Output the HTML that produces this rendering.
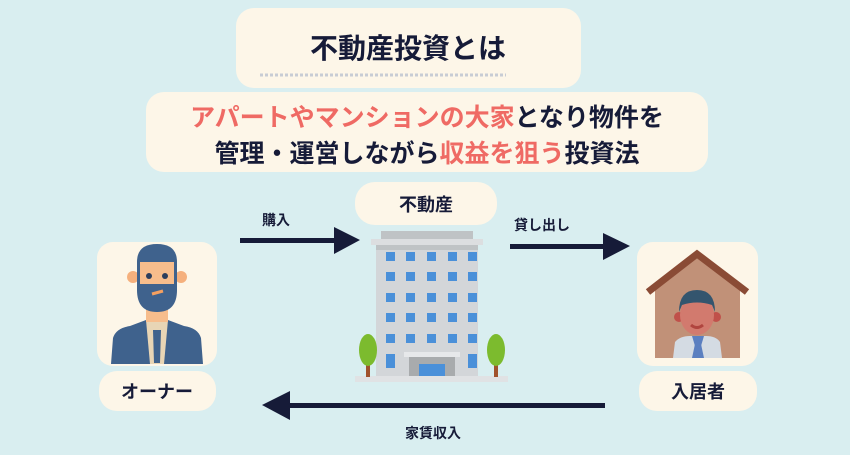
<!DOCTYPE html>
<html><head><meta charset="utf-8"><style>
body{margin:0;width:850px;height:450px;background:#d9eef0;overflow:hidden;font-family:"Liberation Sans","Noto Sans CJK JP",sans-serif;}
svg text{font-family:"Liberation Sans","Noto Sans CJK JP",sans-serif;font-weight:bold;}
</style></head><body>
<svg width="850" height="450" viewBox="0 0 850 450">
<rect width="850" height="450" fill="#d9eef0"/>
<!-- title -->
<rect x="236" y="8" width="345" height="80" rx="18" fill="#fdf6e8"/>
<text x="408" y="58" font-size="28" text-anchor="middle" fill="#161b38">不動産投資とは</text>
<line x1="260" y1="75" x2="506" y2="75" stroke="#c8ccd4" stroke-width="3" stroke-dasharray="3,2"/>
<rect x="146" y="92" width="562" height="80" rx="18" fill="#fdf6e8"/>
<text x="427" y="126" font-size="25" text-anchor="middle" fill="#161b38"><tspan fill="#ef6a64">アパートやマンションの大家</tspan>となり物件を</text>
<text x="427" y="162" font-size="25" text-anchor="middle" fill="#161b38">管理・運営しながら<tspan fill="#ef6a64">収益を狙う</tspan>投資法</text>
<!-- owner -->
<rect x="97" y="242" width="120" height="124" rx="16" fill="#fdf6e8"/>
<rect x="99" y="371" width="117" height="40" rx="18" fill="#fdf6e8"/>
<text x="157" y="398" font-size="18" text-anchor="middle" fill="#161b38">オーナー</text>
<path d="M111 364 L113 338 Q116 328 130 326 L146 320 L168 320 L184 326 Q198 328 201 338 L203 364 Z" fill="#3f628d"/>
<path d="M146 320 L168 320 L164 364 L150 364 Z" fill="#e8d5b5"/>
<path d="M153 330 L161 330 L160 363 L154 363 Z" fill="#3f628d"/>
<rect x="146" y="300" width="22" height="22" fill="#f7bd8c"/>
<ellipse cx="133" cy="277" rx="6" ry="6" fill="#f5b07d"/>
<ellipse cx="181" cy="277" rx="6" ry="6" fill="#f5b07d"/>
<path d="M137 262 Q137 244 157 244 Q177 244 177 262 L177 290 Q177 312 157 312 Q137 312 137 290 Z" fill="#3f628d"/>
<rect x="140" y="262" width="34" height="22" fill="#f7bd8c"/>
<circle cx="149" cy="276" r="3" fill="#2c3e5c"/><circle cx="165" cy="276" r="3" fill="#2c3e5c"/>
<path d="M152 294 L163 291" stroke="#f5a060" stroke-width="3"/>
<!-- arrows -->
<rect x="240" y="238" width="96" height="5" fill="#161b38"/>
<polygon points="334,227 360,240 334,254" fill="#161b38"/>
<text x="276" y="225" font-size="14" text-anchor="middle" fill="#161b38">購入</text>
<rect x="510" y="244" width="96" height="5" fill="#161b38"/>
<polygon points="603,233 630,246 603,260" fill="#161b38"/>
<text x="542" y="230" font-size="14" text-anchor="middle" fill="#161b38">貸し出し</text>
<rect x="288" y="403" width="317" height="5" fill="#161b38"/>
<polygon points="290,391 262,405 290,420" fill="#161b38"/>
<text x="433" y="438" font-size="14" text-anchor="middle" fill="#161b38">家賃収入</text>
<!-- building -->
<rect x="355" y="182" width="142" height="43" rx="20" fill="#fdf6e8"/>
<text x="426" y="211" font-size="18" text-anchor="middle" fill="#161b38">不動産</text>
<rect x="381" y="231" width="92" height="9" fill="#bfc3c5"/>
<rect x="371" y="239" width="112" height="6" fill="#dcdee0"/>
<rect x="376" y="245" width="102" height="133" fill="#d3d6d9"/>
<rect x="376" y="245" width="102" height="5" fill="#bfc3c5"/>
<g fill="#4a90d9">
<rect x="386" y="252" width="9" height="9"/><rect x="406" y="252" width="9" height="9"/><rect x="427" y="252" width="9" height="9"/><rect x="448" y="252" width="9" height="9"/><rect x="468" y="252" width="9" height="9"/>
<rect x="386" y="272" width="9" height="9"/><rect x="406" y="272" width="9" height="9"/><rect x="427" y="272" width="9" height="9"/><rect x="448" y="272" width="9" height="9"/><rect x="468" y="272" width="9" height="9"/>
<rect x="386" y="293" width="9" height="9"/><rect x="406" y="293" width="9" height="9"/><rect x="427" y="293" width="9" height="9"/><rect x="448" y="293" width="9" height="9"/><rect x="468" y="293" width="9" height="9"/>
<rect x="386" y="313" width="9" height="9"/><rect x="406" y="313" width="9" height="9"/><rect x="427" y="313" width="9" height="9"/><rect x="448" y="313" width="9" height="9"/><rect x="468" y="313" width="9" height="9"/>
<rect x="386" y="334" width="9" height="9"/><rect x="406" y="334" width="9" height="9"/><rect x="427" y="334" width="9" height="9"/><rect x="448" y="334" width="9" height="9"/><rect x="468" y="334" width="9" height="9"/>
<rect x="386" y="354" width="9" height="14"/><rect x="468" y="354" width="9" height="14"/>
</g>
<rect x="404" y="352" width="56" height="5" fill="#e6e8ea"/>
<rect x="409" y="357" width="46" height="21" fill="#a8abad"/>
<rect x="419" y="364" width="26" height="14" fill="#4a90d9"/>
<rect x="355" y="376" width="153" height="6" fill="#e0e2e4"/>
<rect x="366" y="355" width="4" height="22" fill="#a0522d"/>
<ellipse cx="368" cy="350" rx="9" ry="16" fill="#7cbb2e"/>
<rect x="494" y="355" width="4" height="22" fill="#a0522d"/>
<ellipse cx="496" cy="350" rx="9" ry="16" fill="#7cbb2e"/>
<!-- resident -->
<rect x="637" y="242" width="121" height="124" rx="16" fill="#fdf6e8"/>
<rect x="639" y="371" width="118" height="40" rx="18" fill="#fdf6e8"/>
<text x="698" y="398" font-size="18" text-anchor="middle" fill="#161b38">入居者</text>
<polygon points="655,288 697,256 740,288 740,358 655,358" fill="#c19178"/>
<polyline points="648,292 697,254 747,292" fill="none" stroke="#8a4b35" stroke-width="7"/>
<path d="M673 358 L675 342 Q680 336 690 336 L706 336 Q716 336 720 342 L722 358 Z" fill="#d4dbe3"/>
<polygon points="692,336 704,336 701,346 695,346" fill="#5b7fc0"/>
<polygon points="695,344 701,344 704,358 692,358" fill="#5b7fc0"/>
<circle cx="679" cy="317" r="5" fill="#c0504a"/><circle cx="716" cy="317" r="5" fill="#c0504a"/>
<ellipse cx="697" cy="315" rx="17" ry="20" fill="#d27a6e"/>
<path d="M679 312 Q679 290 697 290 Q715 290 715 312 L712 305 Q697 300 682 305 Z" fill="#34556e"/>
<path d="M691 325 Q697 330 703 325" stroke="#b0453f" stroke-width="3" fill="none"/>
</svg>
</body></html>
